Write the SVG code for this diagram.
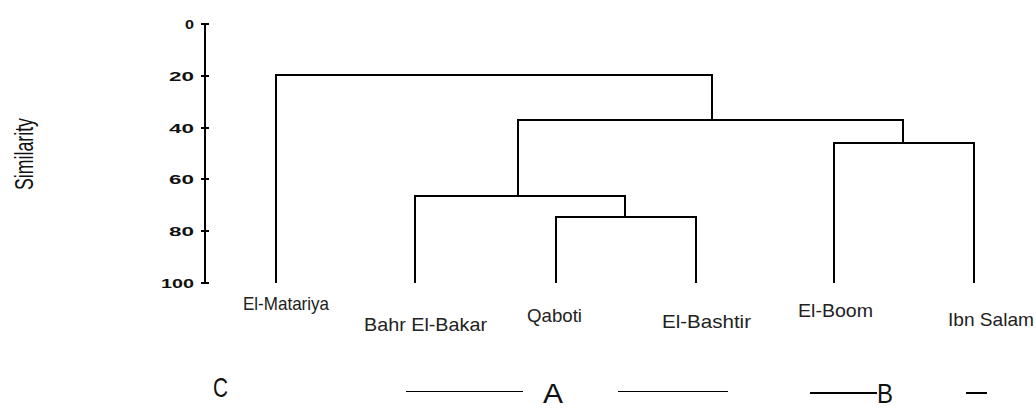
<svg xmlns="http://www.w3.org/2000/svg" width="1036" height="408" viewBox="0 0 1036 408">
<style>
.ax{stroke:#000;stroke-width:2;fill:none}
.tick{font-family:"Liberation Sans",Arial,sans-serif;font-weight:bold;font-size:12px;fill:#111;text-anchor:end}
.leaf{font-family:"Liberation Sans",Arial,sans-serif;font-size:19px;fill:#222}
.grp{font-family:"Liberation Sans",Arial,sans-serif;font-size:28px;fill:#111}
.den{stroke:#000;stroke-width:2;fill:none}
.thin{stroke:#000;stroke-width:1}
.thick{stroke:#000;stroke-width:2}
</style>
<rect width="1036" height="408" fill="#fff"/>
<g id="axis">
<path class="ax" d="M205 24V283"/>
<path class="ax" d="M201 24H209M201 76H209M201 128H209M201 179H209M201 231H209M201 283H209" stroke-width="1.5"/>
<text class="tick" x="194" y="28.5" textLength="9" lengthAdjust="spacingAndGlyphs">0</text>
<text class="tick" x="194" y="80.5" textLength="25" lengthAdjust="spacingAndGlyphs">20</text>
<text class="tick" x="194" y="132.5" textLength="25" lengthAdjust="spacingAndGlyphs">40</text>
<text class="tick" x="194" y="183.5" textLength="25" lengthAdjust="spacingAndGlyphs">60</text>
<text class="tick" x="194" y="235.5" textLength="25" lengthAdjust="spacingAndGlyphs">80</text>
<text class="tick" x="194" y="287.5" textLength="33" lengthAdjust="spacingAndGlyphs">100</text>
<text transform="translate(33,154) rotate(-90)" font-family="Liberation Sans, Arial, sans-serif" font-size="25" fill="#111" text-anchor="middle" textLength="72" lengthAdjust="spacingAndGlyphs">Similarity</text>
</g>
<g id="connectors">
<path class="den" d="M276 283V75H712V120"/>
<path class="den" d="M518 196V120H903V143"/>
<path class="den" d="M834 283V143H974V283"/>
<path class="den" d="M415 283V196H625V217"/>
<path class="den" d="M556 283V217H696V283"/>
</g>
<g id="n-elmatariya"><text class="leaf" x="243" y="310" textLength="86" lengthAdjust="spacingAndGlyphs">El-Matariya</text></g>
<g id="n-bahrelbakar"><text class="leaf" x="364" y="331" textLength="123" lengthAdjust="spacingAndGlyphs">Bahr El-Bakar</text></g>
<g id="n-qaboti"><text class="leaf" x="527" y="322" textLength="55" lengthAdjust="spacingAndGlyphs">Qaboti</text></g>
<g id="n-elbashtir"><text class="leaf" x="662" y="328" textLength="89" lengthAdjust="spacingAndGlyphs">El-Bashtir</text></g>
<g id="n-elboom"><text class="leaf" x="798" y="317" textLength="75" lengthAdjust="spacingAndGlyphs">El-Boom</text></g>
<g id="n-ibnsalam"><text class="leaf" x="948" y="326" textLength="86" lengthAdjust="spacingAndGlyphs">Ibn Salam</text></g>
<g id="groups">
<text class="grp" x="213" y="397" textLength="15" lengthAdjust="spacingAndGlyphs">C</text>
<line class="thin" x1="406" y1="391.5" x2="523" y2="391.5"/>
<text class="grp" x="543" y="403" font-size="22" textLength="20" lengthAdjust="spacingAndGlyphs">A</text>
<line class="thin" x1="618" y1="391.5" x2="728" y2="391.5"/>
<line class="thick" x1="810" y1="393" x2="877" y2="393"/>
<text class="grp" x="877" y="403" font-size="25" textLength="16" lengthAdjust="spacingAndGlyphs">B</text>
<line class="thick" x1="966" y1="393" x2="987" y2="393"/>
</g>
</svg>
